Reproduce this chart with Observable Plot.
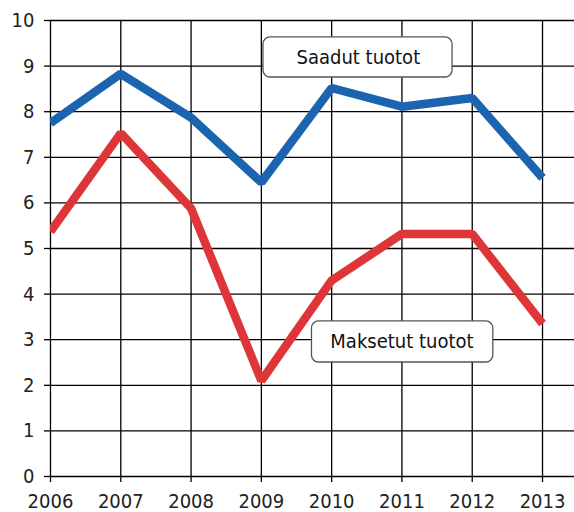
<!DOCTYPE html>
<html><head><meta charset="utf-8">
<script src="https://cdn.jsdelivr.net/npm/d3@7"></script>
<script src="https://cdn.jsdelivr.net/npm/@observablehq/plot@0.6"></script>
<style>body{margin:0;background:#fff}</style>
</head><body><div id="chart"></div>
<script>
const years = [2006, 2007, 2008, 2009, 2010, 2011, 2012, 2013];
const saadut = [7.75, 8.83, 7.87, 6.45, 8.52, 8.11, 8.3, 6.55];
const maksetut = [5.37, 7.53, 5.88, 2.1, 4.3, 5.32, 5.32, 3.35];
const yTicks = [0,1,2,3,4,5,6,7,8,9,10];
const labels = [
  {text: "Saadut tuotot", x: 2010.38, y: 9.19, x1: 2009.03, x2: 2011.72, y1: 8.75, y2: 9.63},
  {text: "Maksetut tuotot", x: 2011.0, y: 2.95, x1: 2009.72, x2: 2012.3, y1: 2.5, y2: 3.4}
];
const rows = years.map((y, i) => ({year: y, s: saadut[i], m: maksetut[i]}));
const font = "'DejaVu Sans Condensed', 'DejaVu Sans', sans-serif";
const chart = Plot.plot({
  width: 574, height: 512,
  marginLeft: 50, marginRight: 0, marginTop: 20, marginBottom: 36,
  style: {fontFamily: font, fontSize: "20px", color: "#222", background: "#fff"},
  x: {domain: [2006, 2013.455], ticks: years, tickFormat: d => String(d), label: null},
  y: {domain: [0, 10], ticks: yTicks, label: null},
  marks: [
    Plot.ruleY(yTicks, {stroke: "#000", strokeWidth: 1.3}),
    Plot.ruleX(years, {stroke: "#000", strokeWidth: 1.3}),
    Plot.axisY({ticks: yTicks, tickSize: 6, tickPadding: 10, stroke: "#000", strokeWidth: 1.3, fill: "#222"}),
    Plot.axisX({ticks: years, tickSize: 6, tickPadding: 11, tickFormat: d => String(d), stroke: "#000", strokeWidth: 1.3, fill: "#222"}),
    Plot.line(rows, {x: "year", y: "s", stroke: "#1b64b0", strokeWidth: 8.5, strokeLinejoin: "miter", strokeLinecap: "butt", clip: true}),
    Plot.line(rows, {x: "year", y: "m", stroke: "#de3538", strokeWidth: 8.5, strokeLinejoin: "miter", strokeLinecap: "butt", clip: true}),
    Plot.rect(labels, {x1: "x1", x2: "x2", y1: "y1", y2: "y2", fill: "#fff", stroke: "#555", strokeWidth: 1.3, rx: 7}),
    Plot.text(labels, {x: "x", y: "y", text: "text", fontSize: 20, fill: "#111"})
  ]
});
document.getElementById("chart").appendChild(chart);
</script></body></html>
